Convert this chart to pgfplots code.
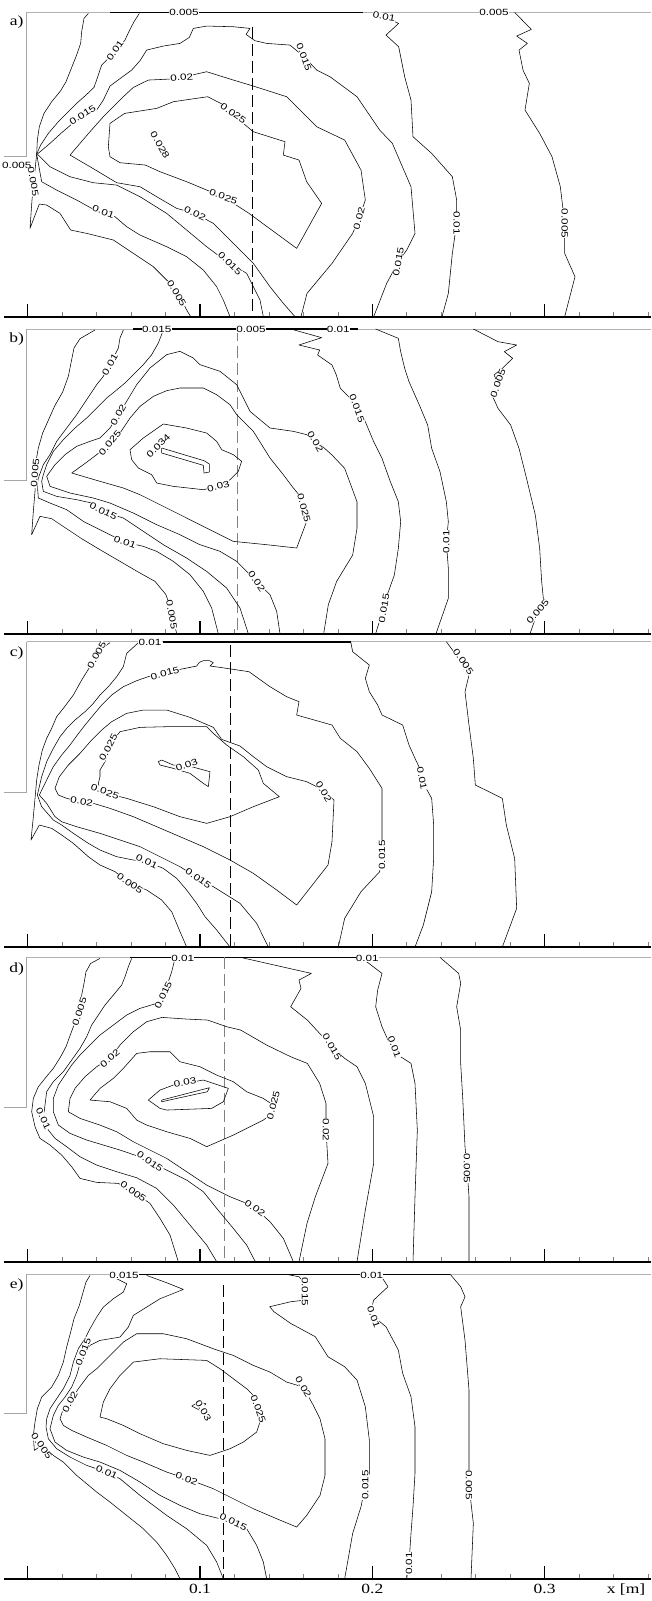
\documentclass[border=0pt]{standalone}
\usepackage{pgfplots}
\pgfplotsset{compat=1.18}
\usepackage{fontspec}
\setmainfont{Liberation Serif}[FakeStretch=1.25]
\newfontfamily\clfont{Liberation Sans}[FakeStretch=1.3]
\newcommand{\clab}[4]{\node[lab,rotate=#3] at (axis cs:#1,#2) {#4};}
\tikzset{lab/.style={font=\clfont\fontsize{9}{9}\selectfont, fill=white, inner sep=0.4pt}}
\pgfplotsset{
  panel/.style={
    scale only axis, width=647pt, xmin=12, xmax=1953, clip=false,
    anchor=south west,
    axis x line*=bottom, axis y line=none,
    x axis line style={line width=2pt,-},
    xtick={83,600,1117,1634},
    minor xtick={186,290,393,497,703,807,910,1014,1220,1324,1427,1531,1738,1841,1945},
    tick align=inside,
    major tick length=13pt, minor tick length=5pt,
    major tick style={line width=1.4pt, black},
    minor tick style={line width=0.5pt, gray},
    xticklabels={},
  },
  cl/.style={black, line width=0.55pt, line join=round},
  topb/.style={gray!60, line width=0.8pt},
  topk/.style={black, line width=1.8pt},
  inlet/.style={gray!70, line width=0.6pt},
}
\begin{document}
\begin{tikzpicture}
\useasboundingbox (0pt,0pt) rectangle (651pt,-1601pt);
% ---------------- panel a ----------------
\begin{axis}[panel, at={(4pt,-316.7pt)}, height=304.3pt, ymin=-950, ymax=-37]
\addplot[topb] coordinates {(80,-37)(1953,-37)};
\addplot[topk] coordinates {(330,-37)(1090,-37)};
\addplot[inlet] coordinates {(12,-470)(80,-470)(80,-37)};
\addplot[black, line width=0.6pt, dash pattern=on 12pt off 5pt] coordinates {(757,-80)(757,-950)};
\addplot[cl] coordinates {(265,-40)(252,-55)(245,-95)(242,-130)(228,-170)(212,-210)(198,-245)(182,-272)(155,-305)(132,-340)(118,-380)(112,-420)(110,-462)(103,-530)(96,-600)(90,-685)(118,-612)(140,-615)(180,-640)(212,-690)(260,-700)(340,-720)(400,-760)(460,-800)(505,-845)(540,-890)(560,-930)(572,-950)};
\addplot[cl] coordinates {(418,-40)(402,-65)(388,-92)(375,-120)(355,-145)(330,-170)(305,-195)(295,-225)(282,-262)(258,-285)(232,-308)(205,-335)(175,-365)(145,-400)(122,-435)(110,-462)(125,-545)(170,-570)(230,-600)(275,-625)(345,-650)(380,-680)(420,-705)(500,-740)(560,-770)(610,-810)(650,-860)(670,-900)(690,-950)};
\addplot[cl] coordinates {(790,-950)(780,-900)(760,-860)(740,-820)(690,-790)(660,-770)(620,-740)(560,-690)(500,-640)(420,-590)(350,-555)(280,-548)(210,-530)(150,-500)(112,-462)(150,-430)(185,-398)(220,-368)(250,-350)(290,-330)(310,-300)(330,-258)(365,-232)(395,-210)(420,-182)(440,-150)(490,-138)(540,-130)(568,-112)(580,-85)(620,-78)(700,-80)(750,-85)(738,-103)(765,-122)(800,-130)(870,-135)(912,-170)(950,-210)(990,-230)(1071,-290)(1139,-390)(1177,-430)(1233,-560)(1245,-700)(1220,-750)(1195,-785)(1160,-850)(1121,-950)};
\addplot[cl] coordinates {(885,-950)(850,-910)(810,-860)(760,-790)(700,-730)(640,-670)(585,-640)(530,-625)(470,-590)(420,-560)(350,-548)(270,-500)(210,-465)(240,-430)(270,-395)(310,-350)(340,-320)(370,-290)(400,-262)(445,-240)(510,-237)(545,-232)(620,-215)(700,-240)(760,-258)(860,-290)(900,-330)(950,-380)(1034,-420)(1083,-510)(1096,-600)(1077,-655)(1058,-700)(996,-790)(921,-880)(903,-950)};
\addplot[cl] coordinates {(330,-370)(325,-440)(330,-470)(360,-488)(436,-495)(480,-515)(560,-545)(620,-570)(670,-590)(747,-640)(890,-745)(965,-610)(920,-545)(897,-480)(850,-465)(855,-425)(760,-395)(700,-345)(672,-315)(623,-290)(520,-305)(470,-325)(374,-340)(330,-370)};
\addplot[cl] coordinates {(1121,-37)(1196,-70)(1158,-105)(1196,-140)(1214,-230)(1233,-300)(1239,-410)(1295,-460)(1357,-530)(1370,-600)(1370,-670)(1357,-760)(1345,-880)(1326,-950)};
\addplot[cl] coordinates {(1544,-37)(1594,-88)(1550,-108)(1582,-130)(1557,-150)(1569,-210)(1588,-250)(1575,-330)(1619,-400)(1656,-470)(1681,-560)(1694,-670)(1694,-760)(1725,-830)(1694,-950)};
\clab{552}{-38}{0}{0.005}
\clab{345}{-152}{55}{0.01}
\clab{248}{-345}{32}{0.015}
\clab{545}{-232}{5}{0.02}
\clab{700}{-340}{-35}{0.025}
\clab{480}{-435}{-60}{0.028}
\clab{50}{-495}{0}{0.005}
\clab{100}{-545}{-80}{0.005}
\clab{310}{-635}{-20}{0.01}
\clab{585}{-640}{-25}{0.02}
\clab{670}{-590}{-20}{0.025}
\clab{690}{-790}{-45}{0.015}
\clab{530}{-880}{-60}{0.005}
\clab{912}{-170}{-70}{0.015}
\clab{1077}{-655}{75}{0.02}
\clab{1195}{-785}{80}{0.015}
\clab{1370}{-670}{-90}{0.01}
\clab{1694}{-670}{-90}{0.005}
\clab{1152}{-50}{-10}{0.01}
\clab{1482}{-38}{0}{0.005}
\node[font=\fontsize{14}{14}\selectfont] at (axis cs:50,-65) {a)};
\end{axis}
% ---------------- panel b ----------------
\begin{axis}[panel, at={(4pt,-633.7pt)}, height=304.7pt, ymin=-947, ymax=-33]
\addplot[topb] coordinates {(80,-33)(1953,-33)};
\addplot[topk] coordinates {(400,-33)(1075,-33)};
\addplot[inlet] coordinates {(12,-487)(80,-487)(80,-33)};
\addplot[gray, line width=0.5pt, dash pattern=on 12pt off 5pt] coordinates {(712,-33)(712,-947)};
\addplot[cl] coordinates {(285,-36)(240,-62)(222,-90)(215,-125)(205,-175)(188,-222)(165,-262)(148,-300)(128,-345)(115,-390)(108,-430)(108,-470)(105,-520)(100,-580)(95,-650)(120,-595)(155,-602)(200,-632)(245,-662)(300,-695)(360,-730)(420,-765)(465,-790)(498,-830)(515,-880)(530,-947)};
\addplot[cl] coordinates {(370,-36)(360,-60)(355,-90)(345,-110)(330,-138)(310,-175)(290,-200)(270,-230)(250,-260)(230,-290)(200,-330)(170,-370)(150,-410)(130,-440)(115,-480)(112,-500)(115,-540)(150,-555)(200,-575)(250,-610)(300,-635)(340,-655)(375,-672)(430,-685)(470,-700)(520,-730)(570,-770)(610,-820)(635,-870)(655,-947)};
\addplot[cl] coordinates {(490,-36)(475,-75)(455,-110)(430,-140)(400,-170)(375,-195)(345,-220)(320,-240)(290,-270)(260,-300)(225,-330)(190,-365)(160,-400)(140,-440)(130,-470)(125,-490)(130,-520)(170,-535)(230,-545)(275,-555)(310,-582)(370,-600)(430,-640)(490,-680)(560,-720)(620,-760)(680,-810)(720,-870)(745,-947)};
\addplot[cl] coordinates {(840,-947)(830,-880)(810,-830)(770,-790)(710,-730)(660,-700)(600,-680)(540,-650)(470,-620)(400,-585)(330,-555)(280,-540)(210,-525)(150,-505)(140,-475)(165,-440)(195,-410)(230,-385)(270,-370)(300,-360)(330,-330)(355,-290)(380,-250)(410,-200)(450,-150)(500,-110)(540,-100)(580,-120)(600,-140)(660,-160)(710,-200)(750,-280)(810,-330)(880,-340)(920,-350)(946,-366)(996,-411)(1034,-451)(1071,-551)(1071,-631)(1058,-711)(1010,-790)(985,-860)(971,-947)};
\addplot[cl] coordinates {(215,-465)(250,-440)(290,-410)(330,-375)(360,-345)(390,-300)(420,-265)(460,-235)(500,-218)(540,-210)(610,-210)(650,-230)(690,-260)(710,-290)(760,-340)(810,-420)(850,-470)(880,-510)(905,-540)(920,-610)(890,-690)(800,-680)(700,-670)(630,-635)(560,-600)(480,-560)(420,-530)(370,-510)(300,-490)(215,-465)};
\addplot[cl] coordinates {(390,-395)(430,-360)(490,-318)(560,-330)(620,-345)(650,-370)(665,-395)(700,-410)(725,-430)(715,-460)(690,-485)(655,-505)(610,-515)(520,-505)(470,-495)(455,-470)(415,-450)(395,-425)(390,-395)};
\addplot[cl] coordinates {(485,-390)(612,-428)(628,-438)(628,-462)(612,-465)(610,-442)(485,-405)(485,-390)};
\addplot[cl] coordinates {(872,-33)(965,-59)(897,-81)(959,-96)(953,-111)(996,-141)(1009,-171)(1021,-211)(1071,-261)(1096,-311)(1121,-371)(1146,-421)(1171,-491)(1195,-551)(1202,-611)(1195,-691)(1183,-771)(1158,-841)(1150,-871)(1127,-947)};
\addplot[cl] coordinates {(1127,-33)(1195,-61)(1202,-101)(1214,-151)(1227,-191)(1258,-261)(1283,-321)(1295,-391)(1320,-461)(1339,-551)(1345,-611)(1339,-671)(1345,-751)(1345,-841)(1308,-947)};
\addplot[cl] coordinates {(1420,-33)(1494,-71)(1550,-81)(1513,-101)(1538,-121)(1507,-151)(1482,-171)(1494,-196)(1476,-231)(1494,-271)(1532,-321)(1557,-391)(1582,-491)(1606,-591)(1619,-691)(1625,-791)(1631,-851)(1613,-881)(1590,-947)};
\clab{470}{-35}{0}{0.015}
\clab{753}{-35}{0}{0.005}
\clab{1015}{-35}{0}{0.01}
\clab{330}{-140}{60}{0.01}
\clab{355}{-290}{60}{0.02}
\clab{330}{-375}{50}{0.025}
\clab{475}{-383}{45}{0.034}
\clab{655}{-505}{15}{0.03}
\clab{105}{-465}{85}{0.005}
\clab{310}{-580}{-25}{0.015}
\clab{375}{-672}{-20}{0.01}
\clab{515}{-890}{-80}{0.005}
\clab{770}{-790}{-55}{0.02}
\clab{946}{-370}{-60}{0.02}
\clab{912}{-570}{-75}{0.025}
\clab{1071}{-271}{-70}{0.015}
\clab{1152}{-871}{80}{0.015}
\clab{1339}{-671}{90}{0.01}
\clab{1494}{-196}{70}{0.005}
\clab{1613}{-881}{50}{0.005}
\node[font=\fontsize{14}{14}\selectfont] at (axis cs:50,-62) {b)};
\end{axis}
% ---------------- panel c ----------------
\begin{axis}[panel, at={(4pt,-947pt)}, height=305.3pt, ymin=-951, ymax=-35]
\addplot[topb] coordinates {(80,-35)(1953,-35)};
\addplot[topk] coordinates {(490,-35)(1052,-35)};
\addplot[inlet] coordinates {(12,-488)(80,-488)(80,-35)};
\addplot[black, line width=0.6pt, dash pattern=on 12pt off 5pt] coordinates {(692,-45)(692,-951)};
\addplot[cl] coordinates {(330,-38)(305,-55)(290,-75)(270,-110)(245,-150)(220,-195)(190,-235)(170,-260)(155,-295)(140,-325)(127,-360)(117,-405)(110,-450)(106,-495)(100,-560)(93,-630)(118,-585)(155,-595)(185,-615)(220,-640)(265,-680)(300,-705)(345,-725)(390,-760)(440,-780)(485,-810)(515,-845)(540,-905)(560,-951)};
\addplot[cl] coordinates {(415,-38)(380,-70)(370,-110)(350,-140)(325,-170)(300,-195)(280,-220)(255,-245)(225,-270)(200,-295)(180,-320)(160,-355)(140,-395)(125,-440)(112,-495)(125,-530)(160,-570)(185,-585)(220,-610)(265,-640)(300,-660)(350,-680)(400,-690)(440,-695)(490,-715)(530,-745)(560,-780)(590,-820)(615,-860)(650,-900)(690,-951)};
\addplot[cl] coordinates {(1015,-951)(1034,-865)(1083,-785)(1139,-725)(1146,-675)(1146,-635)(1146,-505)(1146,-475)(1108,-415)(1071,-365)(1021,-325)(996,-285)(890,-255)(897,-215)(860,-200)(810,-170)(747,-125)(660,-112)(630,-108)(640,-98)(628,-92)(610,-92)(598,-97)(590,-108)(540,-118)(495,-130)(450,-138)(410,-152)(370,-170)(335,-195)(305,-225)(280,-255)(255,-285)(232,-315)(210,-345)(185,-375)(160,-410)(140,-450)(118,-495)(140,-520)(165,-560)(185,-575)(230,-590)(300,-610)(360,-630)(420,-650)(480,-680)(540,-710)(595,-745)(640,-770)(720,-820)(770,-880)(805,-951)};
\addplot[cl] coordinates {(165,-475)(178,-440)(205,-405)(240,-370)(275,-330)(305,-300)(335,-275)(380,-250)(430,-240)(500,-240)(570,-262)(640,-292)(665,-328)(720,-348)(760,-380)(800,-410)(860,-440)(920,-455)(950,-470)(971,-485)(1002,-510)(996,-635)(984,-705)(890,-825)(830,-780)(760,-730)(690,-690)(610,-650)(540,-620)(470,-590)(400,-560)(330,-535)(280,-520)(245,-515)(200,-505)(175,-495)(165,-475)};
\addplot[cl] coordinates {(300,-440)(300,-420)(315,-395)(322,-370)(340,-330)(360,-305)(420,-292)(500,-290)(620,-290)(640,-310)(680,-345)(730,-380)(775,-420)(790,-460)(838,-500)(760,-530)(690,-560)(620,-580)(540,-560)(460,-530)(380,-505)(340,-495)(300,-480)(295,-460)(300,-440)};
\addplot[cl] coordinates {(475,-395)(485,-390)(520,-405)(575,-410)(630,-425)(625,-470)(610,-460)(570,-430)(520,-415)(480,-405)(475,-395)};
\addplot[cl] coordinates {(1052,-35)(1058,-65)(1108,-105)(1096,-145)(1108,-185)(1133,-225)(1146,-255)(1208,-285)(1227,-345)(1245,-385)(1264,-425)(1270,-460)(1295,-505)(1301,-585)(1301,-685)(1295,-785)(1270,-885)(1245,-951)};
\addplot[cl] coordinates {(1339,-35)(1365,-70)(1395,-95)(1407,-135)(1395,-185)(1407,-285)(1420,-385)(1426,-465)(1507,-505)(1519,-585)(1544,-685)(1550,-835)(1507,-951)};
\clab{290}{-75}{60}{0.005}
\clab{450}{-38}{0}{0.01}
\clab{495}{-130}{15}{0.015}
\clab{325}{-352}{62}{0.025}
\clab{560}{-405}{20}{0.03}
\clab{315}{-485}{-20}{0.025}
\clab{245}{-515}{-10}{0.02}
\clab{440}{-695}{-25}{0.01}
\clab{390}{-760}{-35}{0.005}
\clab{595}{-745}{-35}{0.015}
\clab{971}{-485}{-60}{0.02}
\clab{1146}{-675}{90}{0.015}
\clab{1266}{-445}{-80}{0.01}
\clab{1390}{-95}{-55}{0.005}
\node[font=\fontsize{14}{14}\selectfont] at (axis cs:50,-70) {c)};
\end{axis}
% ---------------- panel d ----------------
\begin{axis}[panel, at={(4pt,-1261.7pt)}, height=304.3pt, ymin=-950, ymax=-37]
\addplot[topb] coordinates {(80,-37)(1953,-37)};
\addplot[topk] coordinates {(390,-37)(1075,-37)};
\addplot[inlet] coordinates {(12,-488)(80,-488)(80,-37)};
\addplot[gray, line width=0.5pt, dash pattern=on 12pt off 5pt] coordinates {(672,-37)(672,-950)};
\addplot[cl] coordinates {(300,-40)(272,-55)(258,-80)(252,-115)(245,-150)(238,-200)(222,-240)(210,-272)(198,-305)(182,-335)(160,-370)(135,-400)(115,-425)(100,-460)(95,-500)(105,-545)(120,-580)(150,-600)(185,-630)(215,-665)(240,-700)(290,-712)(355,-715)(400,-740)(450,-775)(480,-820)(510,-870)(535,-950)};
\addplot[cl] coordinates {(395,-40)(385,-65)(375,-95)(365,-120)(340,-150)(315,-180)(295,-210)(275,-240)(260,-275)(240,-310)(215,-345)(190,-380)(160,-410)(140,-440)(135,-480)(130,-520)(145,-555)(165,-580)(200,-605)(240,-635)(290,-660)(350,-680)(410,-698)(470,-730)(520,-780)(570,-840)(620,-900)(650,-950)};
\addplot[cl] coordinates {(525,-40)(515,-80)(505,-110)(490,-150)(470,-175)(420,-190)(380,-210)(340,-240)(300,-270)(270,-300)(240,-330)(215,-360)(195,-390)(175,-420)(160,-460)(160,-500)(175,-540)(210,-565)(260,-585)(310,-600)(360,-615)(410,-632)(450,-650)(500,-675)(560,-705)(610,-740)(650,-790)(700,-850)(740,-900)(766,-950)};
\addplot[cl] coordinates {(880,-950)(850,-880)(810,-830)(765,-790)(740,-775)(690,-755)(620,-720)(560,-680)(500,-640)(450,-615)(400,-590)(350,-560)(300,-540)(240,-520)(205,-500)(210,-460)(225,-430)(255,-395)(290,-365)(330,-340)(360,-300)(400,-260)(440,-230)(486,-217)(560,-222)(623,-225)(680,-245)(722,-255)(800,-300)(872,-335)(922,-355)(959,-415)(978,-475)(978,-555)(984,-655)(946,-755)(921,-835)(897,-950)};
\addplot[cl] coordinates {(270,-465)(300,-430)(340,-400)(370,-370)(410,-325)(450,-320)(510,-320)(540,-350)(600,-365)(650,-390)(700,-410)(740,-440)(790,-460)(820,-480)(810,-510)(790,-525)(700,-570)(620,-605)(570,-580)(500,-560)(440,-540)(410,-525)(380,-490)(330,-470)(270,-465)};
\addplot[cl] coordinates {(445,-465)(480,-435)(520,-420)(610,-405)(685,-430)(670,-470)(635,-490)(500,-495)(480,-490)(445,-465)};
\addplot[cl] coordinates {(485,-465)(628,-428)(622,-440)(485,-470)(485,-465)};
\addplot[cl] coordinates {(722,-37)(934,-85)(897,-105)(903,-130)(872,-185)(922,-225)(959,-265)(996,-305)(1034,-340)(1071,-365)(1096,-415)(1121,-515)(1121,-655)(1096,-795)(1071,-950)};
\addplot[cl] coordinates {(1083,-37)(1146,-85)(1133,-135)(1127,-185)(1146,-245)(1164,-285)(1183,-305)(1202,-335)(1233,-355)(1245,-415)(1252,-555)(1245,-755)(1239,-950)};
\addplot[cl] coordinates {(1320,-37)(1376,-85)(1382,-115)(1370,-185)(1382,-255)(1382,-355)(1388,-455)(1395,-605)(1401,-670)(1407,-755)(1407,-950)};
\clab{548}{-39}{0}{0.01}
\clab{1102}{-39}{0}{0.01}
\clab{238}{-200}{72}{0.005}
\clab{490}{-150}{65}{0.015}
\clab{330}{-340}{40}{0.02}
\clab{555}{-412}{10}{0.03}
\clab{820}{-480}{75}{0.025}
\clab{130}{-520}{-65}{0.01}
\clab{450}{-650}{-35}{0.015}
\clab{400}{-740}{-35}{0.005}
\clab{765}{-790}{-35}{0.02}
\clab{996}{-305}{-60}{0.015}
\clab{1183}{-305}{-70}{0.01}
\clab{978}{-555}{-90}{0.02}
\clab{1401}{-670}{-90}{0.005}
\node[font=\fontsize{14}{14}\selectfont] at (axis cs:50,-72) {d)};
\end{axis}
% ---------------- panel e ----------------
\begin{axis}[panel, at={(4pt,-1578.7pt)}, height=304.3pt, ymin=-950, ymax=-37,
  xticklabels={,0.1,0.2,0.3},
  xticklabel style={font=\fontsize{14}{14}\selectfont, yshift=-2pt}]
\addplot[topb] coordinates {(80,-37)(1953,-37)};
\addplot[topk] coordinates {(330,-37)(1350,-37)};
\addplot[inlet] coordinates {(12,-455)(80,-455)(80,-37)};
\addplot[black, line width=0.6pt, dash pattern=on 12pt off 5pt] coordinates {(670,-70)(670,-950)};
\addplot[cl] coordinates {(270,-40)(258,-60)(248,-95)(238,-130)(222,-170)(212,-210)(200,-255)(190,-300)(175,-340)(155,-375)(125,-405)(112,-440)(105,-480)(100,-520)(103,-565)(125,-550)(160,-580)(190,-600)(230,-640)(260,-665)(290,-690)(330,-720)(380,-760)(430,-800)(470,-840)(500,-880)(525,-920)(540,-950)};
\addplot[cl] coordinates {(330,-40)(380,-65)(370,-90)(340,-110)(310,-135)(290,-165)(270,-200)(255,-230)(235,-260)(220,-300)(210,-340)(190,-380)(170,-410)(150,-440)(140,-470)(138,-495)(145,-530)(170,-560)(210,-585)(260,-610)(320,-630)(360,-650)(420,-700)(500,-760)(560,-800)(620,-850)(650,-900)(670,-950)};
\addplot[cl] coordinates {(440,-40)(500,-62)(550,-82)(505,-100)(480,-110)(440,-135)(400,-160)(385,-195)(360,-225)(300,-235)(270,-250)(250,-270)(240,-305)(230,-340)(215,-375)(195,-405)(175,-430)(160,-460)(150,-500)(165,-540)(200,-565)(250,-585)(300,-600)(360,-625)(420,-660)(480,-700)(540,-730)(600,-755)(660,-770)(700,-780)(740,-800)(770,-850)(790,-900)(800,-950)};
\addplot[cl] coordinates {(180,-470)(190,-440)(210,-420)(235,-380)(265,-340)(290,-320)(330,-280)(370,-240)(410,-215)(490,-215)(560,-230)(640,-260)(700,-280)(760,-310)(810,-330)(860,-360)(910,-375)(940,-430)(960,-470)(975,-530)(975,-640)(960,-700)(920,-760)(890,-795)(830,-770)(760,-740)(700,-710)(640,-680)(560,-650)(500,-630)(430,-600)(380,-580)(320,-550)(260,-525)(215,-505)(190,-490)(180,-470)};
\addplot[cl] coordinates {(300,-465)(310,-420)(330,-380)(360,-340)(400,-300)(480,-290)(620,-295)(660,-320)(700,-350)(740,-380)(760,-400)(775,-440)(780,-480)(770,-510)(730,-540)(690,-560)(630,-580)(560,-565)(490,-545)(420,-515)(370,-490)(320,-470)(300,-465)};
\addplot[cl] coordinates {(575,-432)(595,-420)(618,-425)(600,-445)(575,-432)};
\addplot[cl] coordinates {(860,-37)(897,-44)(915,-64)(915,-114)(872,-119)(809,-134)(822,-149)(872,-184)(946,-224)(984,-284)(1034,-314)(1071,-354)(1096,-434)(1108,-534)(1108,-634)(1096,-669)(1083,-734)(1058,-814)(1034,-950)};
\addplot[cl] coordinates {(1140,-37)(1164,-74)(1121,-114)(1115,-139)(1121,-164)(1158,-194)(1195,-264)(1208,-334)(1233,-404)(1245,-494)(1245,-634)(1239,-734)(1233,-814)(1227,-904)(1220,-950)};
\addplot[cl] coordinates {(1351,-37)(1382,-74)(1395,-104)(1382,-134)(1395,-234)(1407,-384)(1407,-584)(1407,-669)(1420,-784)(1413,-950)};
\clab{372}{-40}{0}{0.015}
\clab{1115}{-39}{0}{0.01}
\clab{250}{-270}{70}{0.015}
\clab{210}{-420}{62}{0.02}
\clab{610}{-445}{-60}{0.03}
\clab{775}{-440}{-70}{0.025}
\clab{910}{-375}{-60}{0.02}
\clab{915}{-89}{-90}{0.015}
\clab{125}{-552}{-55}{0.005}
\clab{320}{-630}{-25}{0.01}
\clab{560}{-650}{-20}{0.02}
\clab{700}{-780}{-25}{0.015}
\clab{1121}{-164}{-70}{0.01}
\clab{1096}{-669}{90}{0.015}
\clab{1407}{-669}{-90}{0.005}
\clab{1227}{-904}{90}{0.01}
\node[font=\fontsize{14}{14}\selectfont] at (axis cs:50,-68) {e)};
\node[font=\fontsize{14}{14}\selectfont, anchor=north, yshift=-2pt] at (axis cs:1878,-950) {x [m]};
\end{axis}
\end{tikzpicture}
\end{document}
